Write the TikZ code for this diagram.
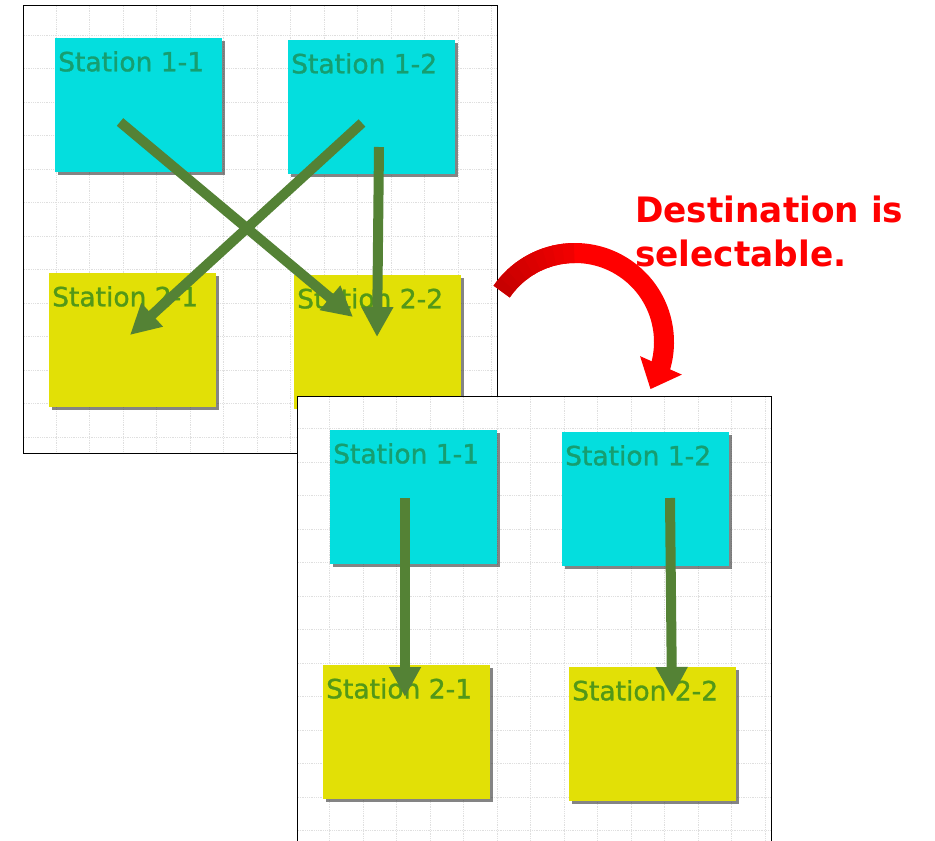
\documentclass[tikz,border=0pt]{standalone}
\usepackage{fontspec}
\setmainfont{DejaVu Sans}
\newfontfamily\notefont[FakeStretch=0.98]{DejaVu Sans}
\newfontfamily\tagfont[FakeBold=1.2]{DejaVu Sans}
\usetikzlibrary{positioning}
\usetikzlibrary{calc}
\usetikzlibrary{arrows.meta}
\usetikzlibrary{bending}
\usetikzlibrary{shadows}

\definecolor{boxcyan}{RGB}{4,222,222}
\definecolor{boxyellow}{RGB}{226,224,6}
\definecolor{tagcyan}{RGB}{22,158,112}
\definecolor{tagyellow}{RGB}{82,152,24}
\definecolor{flowgreen}{RGB}{84,130,53}
\definecolor{notered}{RGB}{255,0,0}

\tikzset{
  panel/.style={draw=black, line width=1pt, fill=white, anchor=north west,
    minimum width=474, minimum height=448, inner sep=0},
  gridline/.style={draw=gray!25, densely dotted, line width=0.8pt},
  station/.style={fill=#1, anchor=north west, minimum width=167, minimum height=134,
    inner sep=0, drop shadow={shadow xshift=3pt, shadow yshift=-3pt, fill=black!80, opacity=0.6}},
  tag/.style={anchor=north west, inner sep=0, xshift=3pt, yshift=-13pt,
    font=\tagfont\fontsize{26.5}{30}\selectfont, text=#1},
  flow/.style={draw=flowgreen, line width=10pt, -{Triangle[width=30pt,length=30pt]}},
  turn/.style={draw=notered, line width=20pt, -{Triangle[width=44pt,length=26pt]}},
  note/.style={text=notered, align=left, inner sep=0, anchor=north west,
    font=\notefont\bfseries\fontsize{35}{44}\selectfont},
}

\begin{document}
\begin{tikzpicture}[x=1pt, y=-1pt]
\useasboundingbox (0,0) rectangle (935,841);
\clip (0,0) rectangle (935,841);

% before
\node[panel] (pa) at (23,5) {};
\foreach \k in {1,...,14} \draw[gridline] ($(pa.north west)+(\k*33.5-0.6,1)$) -- ++(0,446);
\foreach \k in {1,...,13} \draw[gridline] ($(pa.north west)+(1,\k*33.5-3.6)$) -- ++(472,0);
\node[station=boxcyan, label={[tag=tagcyan]north west:Station 1-1}] (s11a) at (55,38) {};
\node[station=boxcyan, label={[tag=tagcyan]north west:Station 1-2}] (s12a) at (288,40) {};
\node[station=boxyellow, label={[tag=tagyellow]north west:Station 2-1}] (s21a) at (49,273) {};
\node[station=boxyellow, label={[tag=tagyellow]north west:Station 2-2}] (s22a) at (294,275) {};
\draw[flow] ([shift={(65,84)}]s11a.north west) -- ([shift={(59,42)}]s22a.north west);
\draw[flow] ([shift={(74,83)}]s12a.north west) -- ([shift={(81,62)}]s21a.north west);
\draw[flow] ([shift={(91,107)}]s12a.north west) -- ([shift={(83,62)}]s22a.north west);

% after
\node[panel, minimum height=460] (pb) at (297,396) {};
\foreach \k in {1,...,14} \draw[gridline] ($(pb.north west)+(\k*33.5-1,1)$) -- ++(0,458);
\foreach \k in {1,...,13} \draw[gridline] ($(pb.north west)+(1,\k*33.5-1)$) -- ++(472,0);
\node[station=boxcyan, label={[tag=tagcyan]north west:Station 1-1}] (s11b) at (330,430) {};
\node[station=boxcyan, label={[tag=tagcyan]north west:Station 1-2}] (s12b) at (562,432) {};
\node[station=boxyellow, label={[tag=tagyellow]north west:Station 2-1}] (s21b) at (323,665) {};
\node[station=boxyellow, label={[tag=tagyellow]north west:Station 2-2}] (s22b) at (569,667) {};
\draw[flow] ([shift={(75,68)}]s11b.north west) -- ([shift={(82,32)}]s21b.north west);
\draw[flow] ([shift={(108,66)}]s12b.north west) -- ([shift={(103,30)}]s22b.north west);

% red turn arrow
\coordinate (bend) at (575,342);
\draw[turn] ([shift={(-145.5:89)}]bend) arc[start angle=-145.5, end angle=32, radius=89];
\foreach \k in {0,...,8}
  \draw[line width=20pt, draw=notered!\the\numexpr 78+\k*2\relax!black]
    ([shift={(-145.5+\k*6:89)}]bend) arc[start angle=-145.5+\k*6, end angle=-138.5+\k*6, radius=89];
\node[note] (hint) at (635,196) {Destination is\\selectable.};
\end{tikzpicture}
\end{document}
